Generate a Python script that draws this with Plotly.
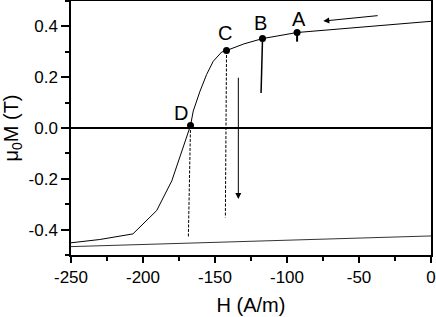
import plotly.graph_objects as go

# Descending branch of the loop
branch_H = [0, -50, -93, -117, -130, -142, -145.4, -151.2, -155.8, -160.4, -165.1, -167, -172, -180, -190.5, -207, -230, -250]
branch_M = [0.42, 0.397, 0.376, 0.352, 0.331, 0.305, 0.299, 0.263, 0.211, 0.145, 0.067, 0.01, -0.077, -0.208, -0.325, -0.417, -0.439, -0.452]

# Return (ascending) branch
return_H = [-250, 0]
return_M = [-0.467, -0.425]

# Labelled points
pt_labels = ["A", "B", "C", "D"]
pt_H = [-93, -117, -142, -167]
pt_M = [0.376, 0.352, 0.305, 0.01]

# Relaxation drops from each point
drop_H1 = [-93, -118, -142.8, -168.5]
drop_M1 = [0.34, 0.138, -0.352, -0.43]
drop_dash = ["solid", "solid", "3px,1.5px", "3px,1.5px"]
drop_width = [2, 1.5, 1, 1]

# Arrows (tail -> head)
arrow_tail_H = [-36, -133.8]
arrow_tail_M = [0.443, 0.204]
arrow_head_H = [-74.8, -133.8]
arrow_head_M = [0.421, -0.28]

# Tick labels
x_tickvals = [-250, -200, -150, -100, -50, 0]
x_ticktext = ["-250", "-200", "-150", "-100", "-50", "0"]
y_tickvals = [-0.4, -0.2, 0.0, 0.2, 0.4]
y_ticktext = ["-0.4", "-0.2", "0.0", "0.2", "0.4"]

FONT = "Liberation Sans, Arial, sans-serif"

fig = go.Figure()
fig.add_trace(go.Scatter(x=branch_H, y=branch_M, mode="lines",
                         line=dict(color="black", width=1), showlegend=False))
fig.add_trace(go.Scatter(x=return_H, y=return_M, mode="lines",
                         line=dict(color="#333333", width=1), showlegend=False))
for i in range(len(pt_H)):
    fig.add_trace(go.Scatter(x=[pt_H[i], drop_H1[i]], y=[pt_M[i], drop_M1[i]], mode="lines",
                             line=dict(color="black", width=drop_width[i], dash=drop_dash[i]),
                             showlegend=False))
fig.add_trace(go.Scatter(x=pt_H, y=pt_M, mode="markers",
                         marker=dict(color="black", size=7), showlegend=False))

label_shift = [(2, 14), (-2, 16), (-2, 18), (-10, 12)]
for lab, h, m, (dx, dy) in zip(pt_labels, pt_H, pt_M, label_shift):
    fig.add_annotation(x=h, y=m, text=lab, showarrow=False, xshift=dx, yshift=dy,
                       font=dict(size=20, color="black", family=FONT))

for th, tm, hh, hm in zip(arrow_tail_H, arrow_tail_M, arrow_head_H, arrow_head_M):
    fig.add_annotation(x=hh, y=hm, ax=th, ay=tm, xref="x", yref="y", axref="x", ayref="y",
                       text="", showarrow=True, arrowhead=2, arrowsize=1.2, arrowwidth=1,
                       arrowcolor="black")

fig.update_layout(
    width=436, height=317,
    margin=dict(l=71, r=5, t=1, b=62, autoexpand=False),
    paper_bgcolor="white", plot_bgcolor="white",
    font=dict(family=FONT, size=17, color="black"),
    xaxis=dict(range=[-250, 0], tickmode="array", tickvals=x_tickvals, ticktext=x_ticktext,
               ticks="outside", ticklen=6, tickwidth=1.5, automargin=False,
               tickcolor="black", showline=True, linecolor="black", linewidth=1.5, mirror=True,
               showgrid=False, zeroline=False,
               minor=dict(dtick=25, tick0=0, ticks="outside", ticklen=4, tickwidth=1.5, tickcolor="black", showgrid=False),
               title=dict(text="H (A/m)", font=dict(size=20), standoff=12),
               tickfont=dict(size=17)),
    yaxis=dict(range=[-0.5, 0.5], tickmode="array", tickvals=y_tickvals, ticktext=y_ticktext,
               ticks="outside", ticklen=8, automargin=False,
               tickwidth=1.5, tickcolor="black", showline=True, linecolor="black", linewidth=1.5,
               mirror=True, showgrid=False, zeroline=True, zerolinecolor="black", zerolinewidth=1.5,
               minor=dict(dtick=0.1, tick0=0, ticks="outside", ticklen=4, tickwidth=1.5, tickcolor="black", showgrid=False),
               title=dict(text="μ<sub>0</sub>M (T)", font=dict(size=20), standoff=6),
               tickfont=dict(size=17)),
)

fig.write_html("out.html", config={"displayModeBar": False},
               post_script="document.body.style.margin='0';document.body.style.padding='0';")
